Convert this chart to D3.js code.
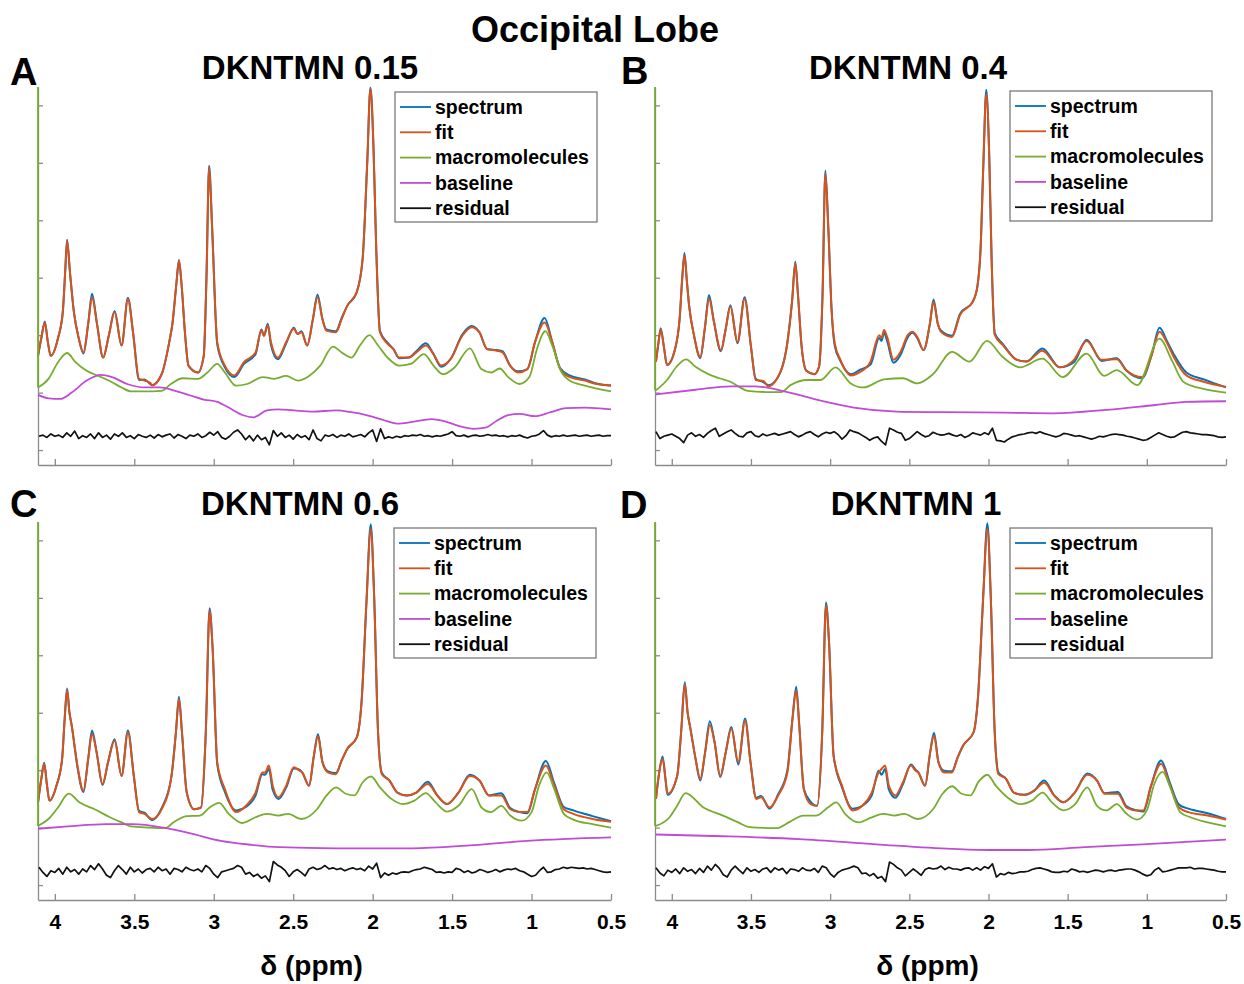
<!DOCTYPE html>
<html>
<head>
<meta charset="utf-8">
<script src="https://cdn.jsdelivr.net/npm/d3@7"></script>
<style>
  body { margin: 0; background: #fff; }
  svg { font-family: Arial, "Liberation Sans", sans-serif; }
</style>
</head>
<body>
<svg id="chart" width="1244" height="984"></svg>
<script>
// ---- shared axis values ----
const ppmRange = [4.106, 0.5];
const ampRange = [-0.26, 6.32];
const xTickValues = [4, 3.5, 3, 2.5, 2, 1.5, 1, 0.5];
const yTickValues = [0, 1, 2, 3, 4, 5, 6];
const legendLabels = ["spectrum", "fit", "macromolecules", "baseline", "residual"];
const seriesColors = ["#0072BD", "#D95319", "#77AC30", "#C04BD6", "#111111"];
const panelLetters = ["A", "B", "C", "D"];
const panelTitles = ["DKNTMN 0.15", "DKNTMN 0.4", "DKNTMN 0.6", "DKNTMN 1"];

// ---- panel A : [ppm, amplitude] ----
const fitA = [[4.106,1.64],[4.085,1.95],[4.063,2.22],[4.045,1.9],[4.026,1.64],[3.98,1.95],[3.95,2.4],[3.935,3.1],[3.923,3.64],[3.905,3.1],[3.88,2.4],[3.85,1.95],[3.82,1.70],[3.79,2.2],[3.766,2.66],[3.735,2.2],[3.696,1.61],[3.66,2.0],[3.624,2.40],[3.58,1.82],[3.54,2.63],[3.508,2.05],[3.47,1.24],[3.436,1.21],[3.40,1.17],[3.388,1.13],[3.328,1.32],[3.28,1.88],[3.26,2.2],[3.235,2.9],[3.219,3.29],[3.203,2.9],[3.18,2.0],[3.159,1.47],[3.099,1.35],[3.063,1.64],[3.046,2.98],[3.029,4.92],[3.01,3.85],[2.978,1.88],[2.93,1.47],[2.87,1.30],[2.81,1.53],[2.737,1.70],[2.70,2.08],[2.684,1.99],[2.66,2.17],[2.64,1.88],[2.597,1.61],[2.544,1.88],[2.496,2.11],[2.472,2.02],[2.448,2.05],[2.412,1.82],[2.376,2.28],[2.347,2.66],[2.316,2.28],[2.292,2.08],[2.231,2.05],[2.195,2.28],[2.16,2.51],[2.10,2.75],[2.063,3.33],[2.034,5.01],[2.014,6.29],[1.995,5.30],[1.978,3.56],[1.954,2.05],[1.906,1.85],[1.87,1.76],[1.833,1.61],[1.773,1.61],[1.725,1.70],[1.665,1.82],[1.617,1.67],[1.569,1.47],[1.508,1.59],[1.436,1.99],[1.376,2.14],[1.328,2.05],[1.28,1.76],[1.219,1.73],[1.183,1.70],[1.135,1.47],[1.087,1.35],[1.026,1.41],[0.978,1.88],[0.918,2.22],[0.87,1.88],[0.82,1.41],[0.76,1.27],[0.665,1.21],[0.592,1.15],[0.5,1.13]];
const spectrumA = [[4.106,1.64],[4.085,1.95],[4.063,2.24],[4.045,1.9],[4.026,1.64],[3.98,1.95],[3.95,2.4],[3.935,3.1],[3.923,3.66],[3.905,3.1],[3.88,2.4],[3.85,1.95],[3.82,1.68],[3.79,2.2],[3.766,2.72],[3.735,2.2],[3.696,1.61],[3.66,2.0],[3.624,2.42],[3.58,1.82],[3.54,2.65],[3.508,2.05],[3.47,1.22],[3.436,1.23],[3.40,1.15],[3.388,1.13],[3.328,1.32],[3.28,1.88],[3.26,2.2],[3.235,2.9],[3.219,3.31],[3.203,2.9],[3.18,2.0],[3.159,1.47],[3.099,1.35],[3.063,1.64],[3.046,2.98],[3.029,4.95],[3.01,3.85],[2.978,1.84],[2.93,1.44],[2.87,1.27],[2.81,1.50],[2.737,1.67],[2.70,2.10],[2.684,1.99],[2.66,2.20],[2.64,1.83],[2.597,1.58],[2.544,1.86],[2.496,2.13],[2.472,2.02],[2.448,2.07],[2.412,1.82],[2.376,2.28],[2.347,2.71],[2.316,2.28],[2.292,2.10],[2.231,2.07],[2.195,2.30],[2.16,2.51],[2.10,2.75],[2.063,3.33],[2.034,5.01],[2.014,6.31],[1.995,5.30],[1.978,3.56],[1.954,2.07],[1.906,1.87],[1.87,1.76],[1.833,1.60],[1.773,1.61],[1.725,1.72],[1.665,1.86],[1.617,1.67],[1.569,1.45],[1.508,1.59],[1.436,2.01],[1.376,2.16],[1.328,2.05],[1.28,1.76],[1.219,1.74],[1.183,1.72],[1.135,1.47],[1.087,1.37],[1.026,1.41],[0.978,1.88],[0.918,2.30],[0.87,1.88],[0.82,1.43],[0.76,1.30],[0.665,1.23],[0.592,1.16],[0.5,1.12]];
const mmA = [[4.106,1.09],[4.04,1.24],[3.98,1.53],[3.923,1.69],[3.87,1.53],[3.80,1.38],[3.725,1.29],[3.64,1.18],[3.58,1.09],[3.52,1.02],[3.436,1.02],[3.33,1.03],[3.27,1.15],[3.195,1.25],[3.10,1.24],[3.04,1.35],[2.978,1.50],[2.93,1.35],[2.86,1.12],[2.79,1.15],[2.69,1.27],[2.62,1.24],[2.545,1.29],[2.47,1.21],[2.40,1.29],[2.33,1.47],[2.25,1.80],[2.195,1.70],[2.133,1.61],[2.08,1.82],[2.02,2.00],[1.966,1.82],[1.906,1.61],[1.833,1.47],[1.76,1.50],[1.677,1.67],[1.617,1.47],[1.557,1.32],[1.484,1.44],[1.388,1.77],[1.316,1.41],[1.255,1.35],[1.20,1.42],[1.147,1.27],[1.075,1.15],[1.014,1.27],[0.966,1.76],[0.913,2.07],[0.87,1.82],[0.81,1.35],[0.76,1.21],[0.665,1.12],[0.5,1.02]];
const baselineA = [[4.106,0.96],[4.04,0.90],[3.966,0.89],[3.894,1.00],[3.80,1.21],[3.71,1.31],[3.64,1.27],[3.545,1.15],[3.436,1.09],[3.34,1.09],[3.243,1.03],[3.147,0.95],[3.063,0.88],[2.978,0.84],[2.906,0.74],[2.82,0.61],[2.75,0.57],[2.665,0.69],[2.593,0.71],[2.496,0.69],[2.376,0.67],[2.231,0.69],[2.135,0.66],[2.04,0.61],[1.94,0.53],[1.846,0.46],[1.75,0.49],[1.63,0.54],[1.557,0.51],[1.46,0.42],[1.364,0.37],[1.29,0.39],[1.219,0.51],[1.147,0.61],[1.075,0.63],[0.978,0.59],[0.88,0.66],[0.784,0.73],[0.665,0.74],[0.5,0.71]];
// residuals: evenly sampled from 4.10 to 0.50 ppm
const residualA = [.24,.26,.22,.28,.24,.26,.22,.30,.24,.33,.20,.25,.22,.28,.20,.30,.22,.26,.19,.28,.24,.30,.22,.25,.20,.27,.24,.22,.26,.21,.27,.23,.26,.28,.21,.27,.24,.20,.26,.24,.28,.22,.25,.31,.26,.32,.22,.19,.24,.31,.35,.28,.18,.25,.16,.26,.18,.22,.09,.34,.24,.30,.22,.26,.19,.27,.22,.25,.18,.35,.20,.16,.26,.24,.27,.22,.26,.24,.28,.23,.25,.27,.23,.30,.35,.15,.37,.20,.23,.21,.24,.22,.25,.24,.26,.25,.27,.24,.25,.23,.25,.24,.26,.28,.32,.25,.24,.26,.23,.25,.26,.24,.25,.27,.25,.26,.24,.25,.23,.25,.24,.26,.23,.21,.24,.25,.28,.34,.26,.23,.25,.24,.26,.24,.25,.26,.24,.25,.26,.24,.25,.26,.24,.25,.25];

// ---- panel B ----
const fitB = [[4.10,1.54],[4.085,1.85],[4.07,2.10],[4.05,1.8],[4.03,1.48],[3.98,1.75],[3.95,2.3],[3.935,2.95],[3.92,3.39],[3.905,2.95],[3.89,2.5],[3.86,2.0],[3.82,1.62],[3.79,2.15],[3.765,2.64],[3.735,2.25],[3.69,1.74],[3.66,2.1],[3.63,2.50],[3.585,1.88],[3.54,2.63],[3.50,1.80],[3.47,1.22],[3.42,1.20],[3.39,1.11],[3.334,1.25],[3.27,1.86],[3.24,2.6],[3.22,3.25],[3.203,2.7],[3.18,1.8],[3.15,1.38],[3.10,1.32],[3.07,1.45],[3.048,2.7],[3.03,4.81],[3.012,3.9],[2.99,2.4],[2.97,1.85],[2.935,1.57],[2.87,1.30],[2.81,1.36],[2.745,1.54],[2.69,2.0],[2.675,1.95],[2.66,2.09],[2.64,1.97],[2.60,1.57],[2.555,1.71],[2.51,2.0],[2.48,2.06],[2.45,1.97],[2.41,1.74],[2.37,2.2],[2.347,2.58],[2.32,2.2],[2.30,2.06],[2.23,1.97],[2.18,2.35],[2.10,2.58],[2.07,2.85],[2.05,3.5],[2.032,5.0],[2.014,6.20],[1.995,5.1],[1.98,3.3],[1.96,2.0],[1.91,1.83],[1.82,1.57],[1.76,1.54],[1.66,1.73],[1.55,1.44],[1.46,1.57],[1.38,1.90],[1.285,1.57],[1.19,1.58],[1.13,1.39],[1.03,1.27],[0.97,1.65],[0.92,2.06],[0.87,1.85],[0.83,1.62],[0.75,1.30],[0.64,1.19],[0.5,1.10]];
const spectrumB = [[4.10,1.54],[4.085,1.85],[4.07,2.12],[4.05,1.8],[4.03,1.48],[3.98,1.75],[3.95,2.3],[3.935,2.95],[3.92,3.43],[3.905,2.95],[3.89,2.5],[3.86,2.0],[3.82,1.60],[3.79,2.15],[3.765,2.70],[3.735,2.25],[3.69,1.72],[3.66,2.1],[3.63,2.52],[3.585,1.86],[3.54,2.66],[3.50,1.80],[3.47,1.24],[3.42,1.18],[3.39,1.13],[3.334,1.25],[3.27,1.88],[3.24,2.6],[3.22,3.28],[3.203,2.7],[3.18,1.8],[3.15,1.38],[3.10,1.32],[3.07,1.45],[3.048,2.7],[3.03,4.86],[3.012,3.9],[2.99,2.4],[2.97,1.80],[2.935,1.55],[2.87,1.32],[2.81,1.40],[2.745,1.49],[2.69,1.95],[2.675,1.90],[2.66,2.04],[2.64,1.90],[2.60,1.52],[2.555,1.66],[2.51,1.96],[2.48,2.04],[2.45,1.95],[2.41,1.74],[2.37,2.2],[2.347,2.62],[2.32,2.2],[2.30,2.08],[2.23,1.99],[2.18,2.37],[2.10,2.58],[2.07,2.85],[2.05,3.5],[2.032,5.0],[2.014,6.27],[1.995,5.1],[1.98,3.3],[1.96,2.03],[1.91,1.85],[1.82,1.57],[1.76,1.54],[1.66,1.77],[1.55,1.44],[1.46,1.53],[1.38,1.92],[1.285,1.55],[1.19,1.60],[1.13,1.39],[1.03,1.25],[0.97,1.65],[0.92,2.13],[0.87,1.88],[0.83,1.67],[0.75,1.35],[0.64,1.23],[0.5,1.09]];
const mmB = [[4.10,1.04],[4.03,1.22],[3.97,1.45],[3.91,1.58],[3.85,1.45],[3.775,1.33],[3.70,1.25],[3.63,1.19],[3.575,1.10],[3.52,1.03],[3.40,1.01],[3.31,1.01],[3.25,1.13],[3.145,1.22],[3.06,1.22],[2.966,1.44],[2.87,1.16],[2.79,1.09],[2.66,1.23],[2.54,1.25],[2.45,1.16],[2.347,1.33],[2.23,1.71],[2.12,1.54],[2.01,1.90],[1.91,1.62],[1.80,1.44],[1.66,1.59],[1.53,1.27],[1.38,1.68],[1.27,1.29],[1.19,1.39],[1.06,1.13],[0.92,1.94],[0.84,1.55],[0.77,1.19],[0.65,1.07],[0.5,1.00]];
const baselineB = [[4.10,0.97],[3.85,1.05],[3.63,1.11],[3.48,1.11],[3.27,1.01],[3.06,0.86],[2.85,0.74],[2.58,0.67],[2.30,0.66],[1.90,0.65],[1.59,0.64],[1.25,0.70],[0.96,0.78],[0.75,0.84],[0.5,0.85]];
const residualB = [.32,.20,.24,.26,.28,.24,.20,.13,.26,.30,.24,.27,.22,.29,.34,.38,.24,.28,.32,.35,.29,.24,.23,.30,.32,.25,.23,.28,.25,.27,.29,.26,.28,.30,.32,.27,.23,.26,.30,.32,.27,.23,.28,.31,.29,.32,.27,.19,.25,.35,.32,.30,.26,.22,.17,.21,.23,.15,.09,.38,.35,.31,.29,.17,.20,.26,.32,.27,.23,.25,.31,.28,.26,.27,.29,.26,.24,.27,.22,.25,.30,.28,.26,.30,.27,.38,.17,.16,.14,.19,.23,.25,.27,.28,.30,.31,.29,.32,.29,.27,.25,.23,.25,.29,.28,.26,.24,.25,.23,.21,.19,.21,.24,.23,.25,.27,.28,.27,.26,.24,.23,.21,.19,.17,.18,.22,.26,.30,.27,.24,.22,.23,.27,.31,.32,.30,.29,.28,.27,.27,.26,.25,.23,.22,.23];

// ---- panel C ----
const fitC = [[4.106,1.44],[4.085,1.85],[4.067,2.11],[4.05,1.75],[4.034,1.47],[3.99,1.73],[3.954,2.20],[3.938,2.9],[3.923,3.39],[3.908,3.0],[3.894,2.78],[3.858,2.08],[3.82,1.64],[3.79,2.2],[3.766,2.63],[3.737,2.31],[3.70,1.76],[3.665,2.14],[3.624,2.51],[3.58,1.90],[3.54,2.66],[3.503,1.90],[3.47,1.27],[3.436,1.24],[3.388,1.15],[3.328,1.32],[3.267,1.88],[3.238,2.66],[3.219,3.24],[3.20,2.66],[3.17,1.61],[3.123,1.32],[3.08,1.35],[3.05,2.66],[3.026,4.78],[3.007,4.11],[2.978,2.14],[2.93,1.67],[2.858,1.27],[2.797,1.38],[2.737,1.61],[2.694,1.96],[2.677,1.96],[2.653,2.08],[2.629,1.73],[2.592,1.53],[2.544,1.73],[2.496,2.05],[2.46,1.99],[2.443,1.96],[2.40,1.73],[2.37,2.25],[2.344,2.59],[2.316,2.14],[2.28,1.96],[2.231,1.93],[2.195,2.17],[2.16,2.37],[2.10,2.57],[2.07,3.18],[2.038,4.98],[2.012,6.20],[1.99,4.98],[1.966,2.66],[1.942,1.93],[1.894,1.82],[1.845,1.61],[1.785,1.56],[1.725,1.61],[1.653,1.76],[1.593,1.56],[1.532,1.41],[1.46,1.61],[1.388,1.90],[1.328,1.82],[1.267,1.56],[1.19,1.56],[1.134,1.32],[1.074,1.27],[1.026,1.27],[0.978,1.67],[0.91,2.08],[0.857,1.73],[0.797,1.32],[0.737,1.24],[0.616,1.15],[0.5,1.10]];
const spectrumC = [[4.106,1.44],[4.085,1.85],[4.067,2.13],[4.05,1.75],[4.034,1.47],[3.99,1.73],[3.954,2.20],[3.938,2.9],[3.923,3.42],[3.908,3.0],[3.894,2.78],[3.858,2.06],[3.82,1.62],[3.79,2.2],[3.766,2.69],[3.737,2.31],[3.70,1.74],[3.665,2.14],[3.624,2.54],[3.58,1.90],[3.54,2.69],[3.503,1.90],[3.47,1.29],[3.436,1.26],[3.388,1.13],[3.328,1.34],[3.267,1.88],[3.238,2.66],[3.219,3.28],[3.20,2.66],[3.17,1.61],[3.123,1.32],[3.08,1.35],[3.05,2.66],[3.026,4.82],[3.007,4.11],[2.978,2.10],[2.93,1.62],[2.858,1.30],[2.797,1.36],[2.737,1.56],[2.694,1.93],[2.677,1.92],[2.653,2.02],[2.629,1.66],[2.592,1.50],[2.544,1.70],[2.496,2.03],[2.46,2.01],[2.443,1.96],[2.40,1.73],[2.37,2.25],[2.344,2.63],[2.316,2.14],[2.28,1.98],[2.231,1.95],[2.195,2.17],[2.16,2.37],[2.10,2.57],[2.07,3.18],[2.038,4.98],[2.012,6.28],[1.99,4.98],[1.966,2.66],[1.942,1.95],[1.894,1.82],[1.845,1.61],[1.785,1.56],[1.725,1.61],[1.653,1.80],[1.593,1.56],[1.532,1.41],[1.46,1.61],[1.388,1.92],[1.328,1.82],[1.267,1.56],[1.19,1.60],[1.134,1.34],[1.074,1.27],[1.026,1.25],[0.978,1.67],[0.91,2.16],[0.857,1.77],[0.797,1.36],[0.737,1.30],[0.616,1.20],[0.5,1.11]];
const mmC = [[4.106,1.03],[4.04,1.15],[3.98,1.35],[3.913,1.59],[3.846,1.44],[3.75,1.32],[3.653,1.18],[3.58,1.09],[3.52,1.02],[3.412,1.00],[3.303,0.99],[3.255,1.09],[3.17,1.20],[3.087,1.21],[3.026,1.35],[2.966,1.43],[2.906,1.24],[2.82,1.08],[2.737,1.18],[2.665,1.24],[2.592,1.21],[2.532,1.24],[2.448,1.15],[2.35,1.32],[2.29,1.56],[2.23,1.70],[2.17,1.59],[2.115,1.56],[2.062,1.79],[2.01,1.89],[1.954,1.70],[1.882,1.50],[1.81,1.41],[1.737,1.47],[1.665,1.60],[1.604,1.44],[1.532,1.28],[1.46,1.38],[1.376,1.67],[1.315,1.35],[1.255,1.27],[1.19,1.38],[1.134,1.21],[1.062,1.12],[1.00,1.27],[0.953,1.73],[0.905,1.96],[0.857,1.67],[0.797,1.24],[0.737,1.14],[0.616,1.06],[0.5,1.00]];
const baselineC = [[4.106,0.98],[3.918,1.02],[3.677,1.06],[3.51,1.06],[3.316,1.00],[3.147,0.90],[2.955,0.77],[2.76,0.70],[2.592,0.66],[2.23,0.64],[1.75,0.64],[1.39,0.69],[1.026,0.77],[0.5,0.83]];
const residualC = [.31,.22,.15,.25,.22,.29,.19,.31,.23,.27,.19,.28,.23,.34,.27,.37,.28,.17,.13,.25,.34,.27,.19,.31,.23,.28,.21,.27,.29,.23,.31,.25,.28,.19,.29,.27,.23,.31,.27,.25,.28,.23,.34,.29,.19,.13,.23,.25,.27,.29,.34,.31,.19,.22,.15,.19,.12,.16,.06,.41,.35,.31,.25,.15,.23,.27,.22,.16,.28,.31,.27,.29,.34,.28,.30,.27,.29,.25,.28,.30,.27,.29,.25,.33,.28,.38,.13,.21,.17,.21,.19,.22,.23,.22,.25,.27,.28,.31,.29,.27,.22,.23,.21,.23,.22,.29,.27,.22,.25,.21,.23,.27,.25,.22,.24,.27,.23,.26,.28,.27,.29,.25,.23,.19,.15,.17,.25,.31,.22,.23,.27,.28,.31,.29,.31,.30,.29,.30,.28,.29,.27,.25,.23,.22,.23];

// ---- panel D ----
const fitD = [[4.10,1.50],[4.08,1.95],[4.058,2.20],[4.04,1.85],[4.027,1.59],[3.966,1.90],[3.94,2.7],[3.918,3.50],[3.90,3.0],[3.882,2.72],[3.85,2.2],[3.82,1.85],[3.79,2.3],[3.76,2.78],[3.73,2.49],[3.694,1.90],[3.66,2.3],[3.624,2.72],[3.58,2.14],[3.537,2.86],[3.503,2.14],[3.467,1.50],[3.436,1.53],[3.383,1.35],[3.328,1.56],[3.27,1.96],[3.238,2.89],[3.214,3.39],[3.195,2.78],[3.166,1.67],[3.123,1.41],[3.082,1.38],[3.05,2.66],[3.026,4.87],[3.007,4.23],[2.978,2.25],[2.925,1.73],[2.858,1.30],[2.797,1.38],[2.737,1.61],[2.694,1.96],[2.675,2.02],[2.653,2.08],[2.629,1.73],[2.588,1.56],[2.54,1.79],[2.49,2.08],[2.46,1.99],[2.443,1.96],[2.40,1.73],[2.37,2.28],[2.344,2.60],[2.316,2.14],[2.28,1.96],[2.231,1.96],[2.195,2.22],[2.16,2.43],[2.094,2.66],[2.067,3.24],[2.034,4.98],[2.007,6.20],[1.985,4.98],[1.961,2.66],[1.937,1.93],[1.889,1.85],[1.84,1.61],[1.778,1.57],[1.713,1.64],[1.648,1.78],[1.585,1.56],[1.527,1.44],[1.455,1.61],[1.376,1.92],[1.315,1.82],[1.267,1.59],[1.183,1.59],[1.128,1.35],[1.062,1.30],[1.022,1.30],[0.973,1.73],[0.91,2.11],[0.857,1.76],[0.797,1.35],[0.737,1.27],[0.616,1.21],[0.5,1.14]];
const spectrumD = [[4.10,1.50],[4.08,1.95],[4.058,2.24],[4.04,1.85],[4.027,1.57],[3.966,1.90],[3.94,2.7],[3.918,3.53],[3.90,3.0],[3.882,2.72],[3.85,2.2],[3.82,1.82],[3.79,2.3],[3.76,2.85],[3.73,2.49],[3.694,1.88],[3.66,2.3],[3.624,2.75],[3.58,2.10],[3.537,2.90],[3.503,2.14],[3.467,1.52],[3.436,1.55],[3.383,1.33],[3.328,1.58],[3.27,2.00],[3.238,2.89],[3.214,3.45],[3.195,2.78],[3.166,1.67],[3.123,1.45],[3.082,1.38],[3.05,2.66],[3.026,4.92],[3.007,4.23],[2.978,2.25],[2.925,1.70],[2.858,1.33],[2.797,1.38],[2.737,1.56],[2.694,1.99],[2.675,1.92],[2.653,2.02],[2.629,1.66],[2.588,1.52],[2.54,1.76],[2.49,2.10],[2.46,2.01],[2.443,1.96],[2.40,1.73],[2.37,2.28],[2.344,2.65],[2.316,2.14],[2.28,1.99],[2.231,1.98],[2.195,2.22],[2.16,2.43],[2.094,2.66],[2.067,3.24],[2.034,4.98],[2.007,6.30],[1.985,4.98],[1.961,2.70],[1.937,1.96],[1.889,1.85],[1.84,1.61],[1.778,1.57],[1.713,1.64],[1.648,1.82],[1.585,1.56],[1.527,1.44],[1.455,1.61],[1.376,1.94],[1.315,1.82],[1.267,1.60],[1.183,1.62],[1.128,1.37],[1.062,1.30],[1.022,1.28],[0.973,1.73],[0.91,2.17],[0.857,1.80],[0.797,1.40],[0.737,1.33],[0.616,1.25],[0.5,1.15]];
const mmD = [[4.10,1.03],[4.014,1.18],[3.966,1.38],[3.913,1.60],[3.80,1.35],[3.677,1.21],[3.58,1.09],[3.51,1.01],[3.34,0.99],[3.255,1.10],[3.17,1.21],[3.087,1.21],[3.014,1.35],[2.961,1.44],[2.906,1.24],[2.82,1.09],[2.737,1.18],[2.665,1.24],[2.592,1.21],[2.532,1.24],[2.448,1.15],[2.35,1.32],[2.29,1.59],[2.23,1.72],[2.17,1.59],[2.115,1.56],[2.062,1.80],[2.007,1.92],[1.954,1.73],[1.882,1.53],[1.80,1.41],[1.725,1.47],[1.658,1.61],[1.60,1.44],[1.527,1.30],[1.455,1.40],[1.376,1.70],[1.315,1.38],[1.255,1.30],[1.19,1.41],[1.128,1.24],[1.062,1.14],[1.00,1.30],[0.953,1.76],[0.90,1.97],[0.852,1.70],[0.79,1.27],[0.725,1.18],[0.616,1.09],[0.5,1.02]];
const baselineD = [[4.10,0.88],[3.677,0.85],[3.195,0.80],[2.71,0.71],[2.23,0.63],[1.99,0.61],[1.75,0.61],[1.39,0.66],[1.026,0.71],[0.5,0.79]];
const residualD = [.30,.21,.16,.26,.22,.28,.20,.30,.24,.27,.20,.29,.22,.33,.26,.36,.29,.18,.14,.26,.33,.26,.20,.30,.24,.27,.22,.28,.30,.22,.30,.26,.29,.20,.28,.27,.24,.30,.26,.25,.29,.22,.33,.30,.20,.14,.22,.26,.28,.30,.33,.30,.20,.21,.16,.20,.12,.15,.06,.40,.36,.30,.26,.16,.22,.28,.23,.17,.27,.30,.28,.29,.33,.27,.31,.28,.28,.26,.29,.30,.26,.30,.26,.32,.29,.37,.14,.20,.18,.22,.20,.21,.23,.23,.24,.27,.29,.30,.28,.26,.23,.22,.22,.24,.23,.28,.26,.23,.24,.22,.24,.26,.25,.23,.25,.26,.24,.26,.27,.28,.28,.26,.23,.19,.16,.18,.26,.30,.23,.24,.26,.28,.30,.30,.30,.31,.28,.29,.29,.28,.27,.26,.24,.23,.23];

// ---- layout ----
const frames = [
  { left: 38,  right: 611,  top: 87,  bottom: 465, titleX: 310, titleY: 79,  letterX: 10,  letterY: 85,  legX: 395,  legY: 92,  tickLabels: false },
  { left: 655, right: 1226, top: 87,  bottom: 465, titleX: 908, titleY: 79,  letterX: 621, letterY: 84,  legX: 1010, legY: 91,  tickLabels: false },
  { left: 38,  right: 611,  top: 522, bottom: 900, titleX: 300, titleY: 515, letterX: 10,  letterY: 517, legX: 394,  legY: 528, tickLabels: true },
  { left: 655, right: 1226, top: 522, bottom: 900, titleX: 916, titleY: 515, letterX: 620, letterY: 518, legX: 1010, legY: 528, tickLabels: true }
];

const panels = [
  { spectrum: spectrumA, fit: fitA, mm: mmA, baseline: baselineA, residual: residualA },
  { spectrum: spectrumB, fit: fitB, mm: mmB, baseline: baselineB, residual: residualB },
  { spectrum: spectrumC, fit: fitC, mm: mmC, baseline: baselineC, residual: residualC },
  { spectrum: spectrumD, fit: fitD, mm: mmD, baseline: baselineD, residual: residualD }
];

const axisColor = "#8c8c8c";
const svg = d3.select("#chart");

svg.append("text")
  .attr("x", 595).attr("y", 42)
  .attr("text-anchor", "middle")
  .style("font-size", "36px").style("font-weight", "bold")
  .text("Occipital Lobe");

panels.forEach((p, i) => {
  const f = frames[i];
  const x = d3.scaleLinear().domain(ppmRange).range([f.left, f.right]);
  const y = d3.scaleLinear().domain(ampRange).range([f.bottom, f.top]);
  const g = svg.append("g");

  // axes (box off, ticks inward)
  const xAxis = d3.axisBottom(x)
    .tickValues(xTickValues)
    .tickSizeInner(-6).tickSizeOuter(0)
    .tickPadding(14)
    .tickFormat(f.tickLabels ? d3.format("") : "");
  const gx = g.append("g").attr("transform", `translate(0,${f.bottom})`).call(xAxis);
  gx.select(".domain").attr("stroke", axisColor).attr("stroke-width", 1.3);
  gx.selectAll(".tick line").attr("stroke", axisColor).attr("stroke-width", 1.3);
  gx.selectAll(".tick text")
    .attr("fill", "#000")
    .style("font-size", "21px").style("font-weight", "bold")
    .style("font-family", "Arial, 'Liberation Sans', sans-serif");

  const yAxis = d3.axisLeft(y)
    .tickValues(yTickValues)
    .tickSizeInner(-5).tickSizeOuter(0)
    .tickFormat("");
  const gy = g.append("g").attr("transform", `translate(${f.left},0)`).call(yAxis);
  gy.select(".domain").attr("stroke", axisColor).attr("stroke-width", 1.3);
  gy.selectAll(".tick line").attr("stroke", axisColor).attr("stroke-width", 1.3);

  const smooth = d3.line().x(d => x(d[0])).y(d => y(d[1])).curve(d3.curveMonotoneX);
  const n = p.residual.length;
  const resPts = p.residual.map((v, k) => [4.10 - k * (3.6 / (n - 1)), v]);
  const rough = d3.line().x(d => x(d[0])).y(d => y(d[1]));

  const series = [
    { data: p.spectrum, gen: smooth, w: 2.0 },
    { data: p.fit, gen: smooth, w: 2.0 },
    { data: p.mm, gen: smooth, w: 1.8 },
    { data: p.baseline, gen: smooth, w: 1.8 },
    { data: resPts, gen: rough, w: 1.7 }
  ];

  series.forEach((s, k) => {
    g.append("path")
      .attr("d", s.gen(s.data))
      .attr("fill", "none")
      .attr("stroke", seriesColors[k])
      .attr("stroke-width", s.w)
      .attr("stroke-linejoin", "round");
  });

  // macromolecule trace enters from the top at the left edge
  g.append("line")
    .attr("x1", f.left).attr("x2", f.left)
    .attr("y1", f.top).attr("y2", y(p.mm[0][1]))
    .attr("stroke", seriesColors[2]).attr("stroke-width", 1.8);

  // title + panel letter
  g.append("text")
    .attr("x", f.titleX).attr("y", f.titleY)
    .attr("text-anchor", "middle")
    .style("font-size", "33px").style("font-weight", "bold")
    .text(panelTitles[i]);
  g.append("text")
    .attr("x", f.letterX).attr("y", f.letterY)
    .style("font-size", "38px").style("font-weight", "bold")
    .text(panelLetters[i]);

  if (f.tickLabels) {
    g.append("text")
      .attr("x", (f.left + f.right) / 2 - 13).attr("y", 975)
      .attr("text-anchor", "middle")
      .style("font-size", "28px").style("font-weight", "bold")
      .text("δ (ppm)");
  }

  // legend
  const leg = g.append("g").attr("transform", `translate(${f.legX},${f.legY})`);
  leg.append("rect")
    .attr("width", 202).attr("height", 130)
    .attr("fill", "#fff").attr("stroke", "#6e6e6e").attr("stroke-width", 1.2);
  legendLabels.forEach((lab, k) => {
    const ly = 15 + k * 25.3;
    leg.append("line")
      .attr("x1", 5).attr("x2", 36).attr("y1", ly).attr("y2", ly)
      .attr("stroke", seriesColors[k]).attr("stroke-width", 1.8);
    leg.append("text")
      .attr("x", 40).attr("y", ly).attr("dy", "0.35em")
      .style("font-size", "19.5px").style("font-weight", "bold")
      .text(lab);
  });
});
</script>
</body>
</html>
